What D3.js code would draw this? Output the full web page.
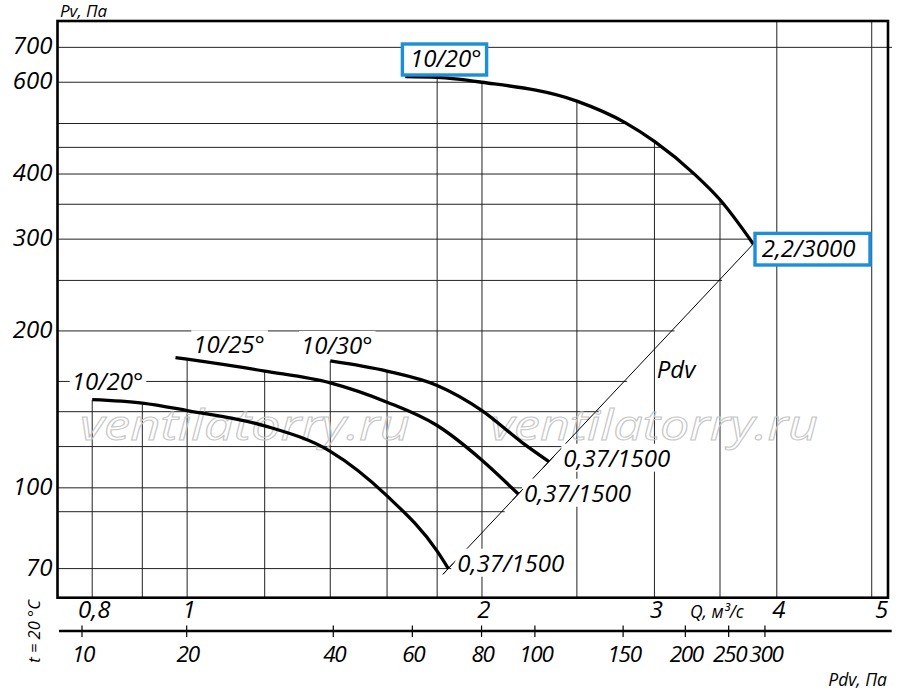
<!DOCTYPE html>
<html><head><meta charset="utf-8">
<script src="https://cdn.jsdelivr.net/npm/d3@7"></script>
<style>
html,body{margin:0;padding:0;background:#fff;}
svg text{font-family:"Open Sans",sans-serif;font-style:italic;fill:#000;}
</style></head>
<body><svg id="c" width="900" height="691"></svg>
<script>
// ---------- data ----------
const qTickValues = [0.8, 1, 2, 3, 4, 5];
const qTickLabels = ["0,8", "1", "2", "3", "4", "5"];
const qGridValues = [0.8, 0.9, 1, 1.2, 1.4, 1.6, 1.8, 2, 2.5, 3, 3.5, 4, 5];
const pTickValues = [70, 100, 200, 300, 400, 600, 700];
const pGridValues = [70, 90, 100, 120, 140, 160, 200, 250, 300, 350, 400, 450, 500, 600, 700];
const pdvTickValues = [10, 20, 40, 60, 80, 100, 150, 200, 250, 300];
const pdvTickAtQ = [0.781, 0.999, 1.41, 1.698, 1.998, 2.265, 2.787, 3.226, 3.572, 3.89];

// fan 2,2 kW / 3000 rpm, 10/20°
const fanBigQ = [1.67, 1.8, 2.0, 2.5, 2.8, 3.0, 3.3, 3.5, 3.785];
const fanBigP = [615, 613, 600, 552, 502, 462, 399, 357, 293.7];
// fans 0,37 kW / 1500 rpm
const fan20Q = [0.8, 0.9, 1.0, 1.2, 1.4, 1.6, 1.8, 1.848];
const fan20P = [147.6, 145.4, 140.7, 131.5, 117.5, 96.5, 75.6, 70.0];
const fan25Q = [0.973, 1.0, 1.2, 1.4, 1.6, 1.8, 2.0, 2.178];
const fan25P = [177.8, 176.5, 167.5, 159, 146, 131.7, 113, 97.3];
const fan30Q = [1.4, 1.6, 1.8, 2.0, 2.2, 2.341];
const fan30P = [175.2, 167.5, 157.2, 140.7, 122, 112.3];
// dynamic pressure line Pdv
const pdvLineQ = [1.825, 3.785];
const pdvLineP = [68.3, 293.7];

// ---------- scales ----------
const L = 57.5, R = 888, T = 21, B = 597.7;
const x = d3.scaleLog().domain([0.7373, 5.195]).range([L, R]);
const y = d3.scaleLog().domain([61.55, 786.4]).range([B, T]);

const svg = d3.select("#c");
const curves = [
  {Q: fanBigQ, P: fanBigP},
  {Q: fan20Q, P: fan20P},
  {Q: fan25Q, P: fan25P},
  {Q: fan30Q, P: fan30P}
];
const lg = Math.log10;
function pAt(c, q) {
  for (let i = 0; i < c.Q.length - 1; i++) {
    if (q >= c.Q[i] - 1e-9 && q <= c.Q[i + 1] + 1e-9) {
      const t = (lg(q) - lg(c.Q[i])) / (lg(c.Q[i + 1]) - lg(c.Q[i]));
      return Math.pow(10, lg(c.P[i]) + t * (lg(c.P[i + 1]) - lg(c.P[i])));
    }
  }
  return null;
}
function qAt(Qa, Pa, p) {
  for (let i = 0; i < Qa.length - 1; i++) {
    const a = Pa[i], b = Pa[i + 1];
    if ((p <= a && p >= b) || (p >= a && p <= b)) {
      const t = (lg(p) - lg(a)) / (lg(b) - lg(a));
      return Math.pow(10, lg(Qa[i]) + t * (lg(Qa[i + 1]) - lg(Qa[i])));
    }
  }
  return null;
}

// ---------- grid ----------
const grid = svg.append("g").attr("stroke", "#222").attr("stroke-width", 1);
qGridValues.forEach(q => {
  const tops = curves.map(c => pAt(c, q)).filter(v => v !== null);
  const yTop = tops.length ? y(d3.max(tops)) : T;
  grid.append("line").attr("x1", x(q)).attr("x2", x(q)).attr("y1", B).attr("y2", yTop);
});
const bigMax = d3.max(fanBigP), bigMin = d3.min(fanBigP);
pGridValues.forEach(p => {
  let xEnd;
  if (p > bigMax) xEnd = R + 4;
  else if (p >= bigMin) xEnd = x(qAt(fanBigQ, fanBigP, p));
  else xEnd = x(qAt(pdvLineQ, pdvLineP, p)) + 3;
  grid.append("line").attr("x1", L).attr("x2", xEnd).attr("y1", y(p)).attr("y2", y(p));
});

// watermark
const wm = svg.append("g");
[[80, 330], [490, 328]].forEach(([wx, wl]) => {
  wm.append("text").attr("x", wx).attr("y", 440).text("ventilatorry.ru")
    .attr("font-size", 42).attr("textLength", wl).attr("lengthAdjust", "spacingAndGlyphs")
    .style("fill", "none").attr("stroke", "#c6c6c6").attr("stroke-width", 1);
});

// Pdv line
svg.append("line")
  .attr("x1", x(pdvLineQ[0])).attr("y1", y(pdvLineP[0]))
  .attr("x2", x(pdvLineQ[1])).attr("y2", y(pdvLineP[1]))
  .attr("stroke", "#000").attr("stroke-width", 1);

const bgLayer = svg.append("g");

// curves
const line = d3.line().x(d => x(d[0])).y(d => y(d[1])).curve(d3.curveMonotoneX);
curves.forEach(c => {
  svg.append("path").datum(c.Q.map((q, i) => [q, c.P[i]]))
    .attr("d", line).attr("fill", "none").attr("stroke", "#000").attr("stroke-width", 3.3)
    .attr("stroke-linecap", "butt");
});

// small tick of the Pdv line through each curve end
const dx0 = x(pdvLineQ[1]) - x(pdvLineQ[0]), dy0 = y(pdvLineP[1]) - y(pdvLineP[0]);
const len0 = Math.hypot(dx0, dy0);
[curves[1], curves[2], curves[3]].forEach(c => {
  const n = c.Q.length - 1;
  const ex = x(c.Q[n]), ey = y(c.P[n]);
  svg.append("line")
    .attr("x1", ex - dx0 / len0 * 8).attr("y1", ey - dy0 / len0 * 8)
    .attr("x2", ex + dx0 / len0 * 7).attr("y2", ey + dy0 / len0 * 7)
    .attr("stroke", "#000").attr("stroke-width", 1);
});

// ---------- frame ----------
svg.append("rect").attr("x", L).attr("y", T).attr("width", R - L).attr("height", B - T)
  .attr("fill", "none").attr("stroke", "#000").attr("stroke-width", 2.6);

// ---------- axes text ----------
const txt = svg.append("g");
pTickValues.forEach(p => {
  txt.append("text").attr("x", 52.5).attr("y", y(p) + 7).attr("text-anchor", "end")
    .attr("font-size", 24).text(p);
});
qTickValues.forEach((q, i) => {
  const last = i === qTickValues.length - 1;
  txt.append("text").attr("x", x(q) + (last ? 10 : 2)).attr("y", 618)
    .attr("text-anchor", "middle").attr("font-size", 24).text(qTickLabels[i]);
});
txt.append("text").attr("x", 690).attr("y", 618).attr("font-size", 17.5).text("Q, м³/с");
txt.append("text").attr("x", 60).attr("y", 17).attr("font-size", 17).text("Pv, Па");
txt.append("text").attr("x", 887).attr("y", 686).attr("text-anchor", "end").attr("font-size", 17.5).text("Pdv, Па");
txt.append("text").attr("transform", "translate(40,631.5) rotate(-90)").attr("text-anchor", "middle")
  .attr("font-size", 16.5).text("t = 20 °C");

// Pdv axis
const pdvAxis = svg.append("g");
pdvAxis.append("line").attr("x1", 59).attr("x2", 891.7).attr("y1", 631).attr("y2", 631)
  .attr("stroke", "#000").attr("stroke-width", 2.6);
pdvTickValues.forEach((v, i) => {
  const px = x(pdvTickAtQ[i]);
  pdvAxis.append("line").attr("x1", px).attr("x2", px).attr("y1", 625.5).attr("y2", 637)
    .attr("stroke", "#000").attr("stroke-width", 1.2);
  pdvAxis.append("text").attr("x", px + 1).attr("y", 661.5).attr("text-anchor", "middle")
    .attr("font-size", 22.5).attr("letter-spacing", -1.3).text(v);
});

// ---------- curve labels ----------
const labels = [
  {t: "10/25°", x: 193.3, y: 353.3, bg: true},
  {t: "10/30°", x: 301, y: 354, bg: true},
  {t: "10/20°", x: 71.7, y: 390, bg: true},
  {t: "Pdv", x: 656.7, y: 378.3, bg: false},
  {t: "0,37/1500", x: 563.3, y: 466.7, bg: true},
  {t: "0,37/1500", x: 524, y: 501.7, bg: true},
  {t: "0,37/1500", x: 457.3, y: 571.7, bg: true}
];
labels.forEach(l => {
  const el = txt.append("text").attr("x", l.x).attr("y", l.y).attr("font-size", 24).text(l.t);
  if (l.bg) {
    const bb = el.node().getBBox();
    bgLayer.append("rect").attr("x", bb.x - 2).attr("y", bb.y + 3)
      .attr("width", bb.width + 5).attr("height", (l.y + 5) - (bb.y + 3)).attr("fill", "#fff");
  }
});

// boxed labels
const boxes = [
  {t: "10/20°", bx: 402.4, by: 44, bw: 84.2, bh: 31, tx: 410, ty: 66.7},
  {t: "2,2/3000", bx: 755, by: 233.4, bw: 115, bh: 31.6, tx: 761.7, ty: 256.7}
];
boxes.forEach(b => {
  const g = svg.append("g");
  g.append("rect").attr("x", b.bx).attr("y", b.by).attr("width", b.bw).attr("height", b.bh)
    .attr("fill", "#fff").attr("stroke", "#1B8FD9").attr("stroke-width", 3.4);
  g.append("text").attr("x", b.tx).attr("y", b.ty).attr("font-size", 24).text(b.t);
});
</script>
</body></html>
